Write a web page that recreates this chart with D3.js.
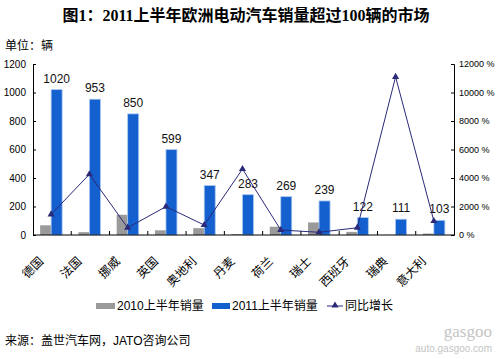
<!DOCTYPE html>
<html>
<head>
<meta charset="utf-8">
<script src="https://cdn.jsdelivr.net/npm/d3@7"></script>
<style>
  body { margin: 0; background: #fff; }
  text { font-family: Arial, "Liberation Sans", "Noto Sans CJK SC", sans-serif; }
</style>
</head>
<body>
<div id="chart"></div>
<script>
const categories = ["德国", "法国", "挪威", "英国", "奥地利", "丹麦", "荷兰", "瑞士", "西班牙", "瑞典", "意大利"];
const sales2010 = [68, 20, 142, 33, 48, 6, 58, 88, 22, 1, 10];
const sales2011 = [1020, 953, 850, 599, 347, 283, 269, 239, 122, 111, 103];
const growth = [1450, 4260, 510, 1990, 700, 4630, 350, 190, 510, 11100, 980];
const leftTicks = [0, 200, 400, 600, 800, 1000, 1200];
const rightTicks = [0, 2000, 4000, 6000, 8000, 10000, 12000];

const width = 498, height = 359,
    margin = { top: 64, right: 44, bottom: 124, left: 33 },
    innerW = width - margin.left - margin.right,
    innerH = height - margin.top - margin.bottom;

const svg = d3.select('#chart').append('svg')
    .attr('width', width)
    .attr('height', height);

// title + unit
svg.append('text')
    .attr('x', 246).attr('y', 21)
    .attr('text-anchor', 'middle')
    .style('font-family', '"Liberation Serif", "Noto Sans CJK SC", serif')
    .style('font-weight', 'bold')
    .style('font-size', '16px')
    .text('图1：2011上半年欧洲电动汽车销量超过100辆的市场');

svg.append('text')
    .attr('x', 5).attr('y', 50)
    .style('font-size', '12px')
    .text('单位：辆');

const g = svg.append('g')
    .attr('transform', `translate(${margin.left},${margin.top})`);

const x = d3.scaleBand().domain(categories).range([0, innerW]);
const y = d3.scaleLinear().domain([0, 1200]).range([innerH, 0]);
const y2 = d3.scaleLinear().domain([0, 12000]).range([innerH, 0]);
const barW = 11;

// bars
g.selectAll('.b2010').data(categories).join('rect')
    .attr('x', (d, i) => x(d) + x.bandwidth() / 2 - barW - 1)
    .attr('y', (d, i) => y(sales2010[i]))
    .attr('width', barW)
    .attr('height', (d, i) => innerH - y(sales2010[i]))
    .attr('fill', '#9a9a9a');

g.selectAll('.b2011').data(categories).join('rect')
    .attr('x', (d, i) => x(d) + x.bandwidth() / 2 - 1)
    .attr('y', (d, i) => y(sales2011[i]))
    .attr('width', barW)
    .attr('height', (d, i) => innerH - y(sales2011[i]))
    .attr('fill', '#1560cf')
    .attr('stroke', '#a9c8ef')
    .attr('stroke-width', 0.8);

g.selectAll('.lbl').data(categories).join('text')
    .attr('x', (d, i) => x(d) + x.bandwidth() / 2 - 1 + barW / 2)
    .attr('y', (d, i) => y(sales2011[i]) - 7)
    .attr('text-anchor', 'middle')
    .style('font-size', '12px')
    .attr('fill', '#111')
    .text((d, i) => sales2011[i]);

// growth line
const line = d3.line()
    .x((d, i) => x(categories[i]) + x.bandwidth() / 2 - 1)
    .y(d => y2(d));

g.append('path')
    .datum(growth)
    .attr('fill', 'none')
    .attr('stroke', '#2a2a78')
    .attr('stroke-width', 1)
    .attr('d', line);

const tri = d3.symbol().type(d3.symbolTriangle).size(22);
g.selectAll('.mk').data(growth).join('path')
    .attr('transform', (d, i) => `translate(${x(categories[i]) + x.bandwidth() / 2 - 1},${y2(d)})`)
    .attr('d', tri)
    .attr('fill', '#2a2a78');

// axes
const leftAxis = g.append('g')
    .call(d3.axisLeft(y).tickValues(leftTicks).tickSize(-3).tickPadding(7).tickFormat(d3.format('d')));
leftAxis.selectAll('text').style('font-size', '10px').attr('fill', '#000');

const rightAxis = g.append('g')
    .attr('transform', `translate(${innerW},0)`)
    .call(d3.axisRight(y2).tickValues(rightTicks).tickSize(-3).tickPadding(5)
        .tickFormat(d => d + ' %'));
rightAxis.selectAll('text').style('font-size', '9px').attr('fill', '#000');

g.append('line')
    .attr('x1', 0).attr('x2', innerW)
    .attr('y1', innerH).attr('y2', innerH)
    .attr('stroke', '#000');

// category boundary ticks (pointing inward)
g.selectAll('.ctick').data(categories.slice(1)).join('line')
    .attr('x1', d => x(d)).attr('x2', d => x(d))
    .attr('y1', innerH).attr('y2', innerH - 4)
    .attr('stroke', '#000');

[leftAxis, rightAxis].forEach(a => {
    a.select('.domain').attr('stroke', '#000');
    a.selectAll('.tick line').attr('stroke', '#000');
});

g.selectAll('.xl').data(categories).join('text')
    .attr('transform', d => `translate(${x(d) + x.bandwidth() / 2 - 8},${innerH + 27}) rotate(-45)`)
    .attr('text-anchor', 'end')
    .style('font-size', '12px')
    .text(d => d);

// legend
const legend = svg.append('g').attr('transform', 'translate(0,306)');
legend.append('rect').attr('x', 96).attr('y', -3).attr('width', 19).attr('height', 6).attr('fill', '#9a9a9a');
legend.append('text').attr('x', 117).attr('y', 4).style('font-size', '12px').text('2010上半年销量');
legend.append('rect').attr('x', 212).attr('y', -3).attr('width', 18).attr('height', 6).attr('fill', '#1560cf');
legend.append('text').attr('x', 232).attr('y', 4).style('font-size', '12px').text('2011上半年销量');
legend.append('line').attr('x1', 327).attr('x2', 343).attr('y1', 0).attr('y2', 0).attr('stroke', '#2a2a78');
legend.append('path').attr('transform', 'translate(335,-0.5)').attr('d', tri).attr('fill', '#2a2a78');
legend.append('text').attr('x', 345).attr('y', 4).style('font-size', '12px').text('同比增长');

// source
svg.append('text')
    .attr('x', 5).attr('y', 345)
    .style('font-size', '12px')
    .text('来源：盖世汽车网，JATO咨询公司');

// watermark
svg.append('text')
    .attr('x', 492).attr('y', 337)
    .attr('text-anchor', 'end')
    .style('font-family', '"Liberation Serif", serif')
    .style('font-size', '17px')
    .attr('fill', '#c4c4c4')
    .text('gasgoo');
svg.append('text')
    .attr('x', 492).attr('y', 352)
    .attr('text-anchor', 'end')
    .style('font-size', '10px')
    .attr('fill', '#c4c4c4')
    .text('auto.gasgoo.com');
</script>
</body>
</html>
